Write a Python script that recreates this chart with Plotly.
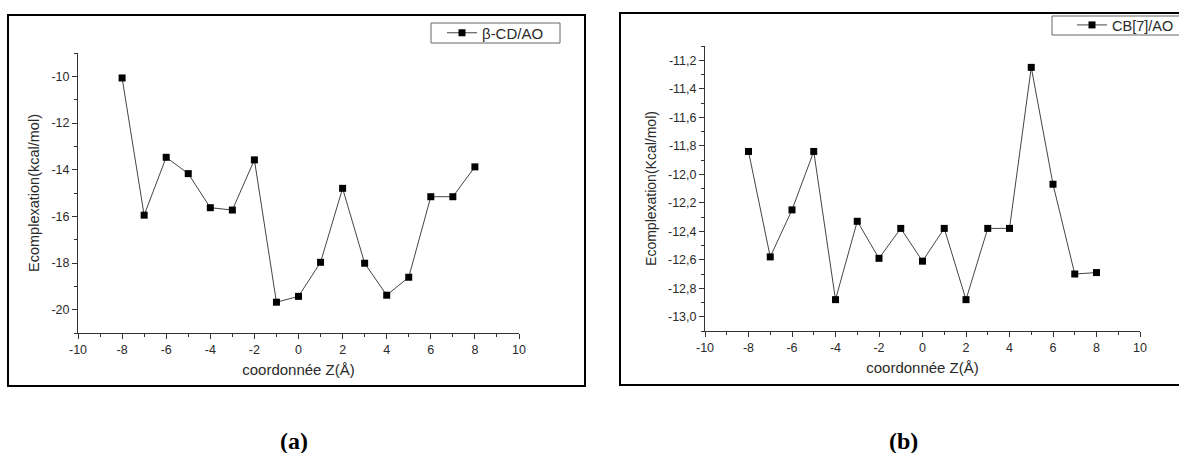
import plotly.graph_objects as go

# ---- data ----
z_coords = [-8, -7, -6, -5, -4, -3, -2, -1, 0, 1, 2, 3, 4, 5, 6, 7, 8]
e_bcd = [-10.07, -15.95, -13.47, -14.17, -15.63, -15.73, -13.58, -19.68, -19.43,
         -17.97, -14.80, -18.01, -19.38, -18.61, -15.16, -15.16, -13.88]
e_cb7 = [-11.84, -12.58, -12.25, -11.84, -12.88, -12.33, -12.59, -12.38, -12.61,
         -12.38, -12.88, -12.38, -12.38, -11.25, -12.07, -12.70, -12.69]

x_tickvals = [-10, -8, -6, -4, -2, 0, 2, 4, 6, 8, 10]
x_ticktext = ["-10", "-8", "-6", "-4", "-2", "0", "2", "4", "6", "8", "10"]
ya_tickvals = [-20, -18, -16, -14, -12, -10]
ya_ticktext = ["-20", "-18", "-16", "-14", "-12", "-10"]
yb_tickvals = [-13.0, -12.8, -12.6, -12.4, -12.2, -12.0, -11.8, -11.6, -11.4, -11.2]
yb_ticktext = ["-13,0", "-12,8", "-12,6", "-12,4", "-12,2", "-12,0", "-11,8", "-11,6", "-11,4", "-11,2"]

name_a = "β-CD/AO"
name_b = "CB[7]/AO"
xtitle = "coordonnée Z(Å)"
ytitle_a = "Ecomplexation(kcal/mol)"
ytitle_b = "Ecomplexation(Kcal/mol)"

W, H = 1179, 453
def px(x):
    return x / W
def py(y):
    return 1 - y / H

FONT = "Liberation Sans, Arial, sans-serif"
TXT = "#2a2a2a"
AX = "#333333"

fig = go.Figure()
fig.add_trace(go.Scatter(
    x=z_coords, y=e_bcd, mode="lines+markers", name=name_a,
    line=dict(color="#444444", width=1),
    marker=dict(symbol="square", size=7, color="black"),
    xaxis="x", yaxis="y", legend="legend"))
fig.add_trace(go.Scatter(
    x=z_coords, y=e_cb7, mode="lines+markers", name=name_b,
    line=dict(color="#444444", width=1),
    marker=dict(symbol="square", size=7, color="black"),
    xaxis="x2", yaxis="y2", legend="legend2"))

axis_common = dict(
    showgrid=False, zeroline=False, showline=True, linecolor=AX, linewidth=1,
    ticks="outside", ticklen=5, tickwidth=1, tickcolor=AX,
    tickfont=dict(family=FONT, size=12.5, color=TXT), mirror=False,
    automargin=False,
)

fig.update_layout(
    width=W, height=H,
    margin=dict(l=0, r=0, t=0, b=0, autoexpand=False),
    paper_bgcolor="white", plot_bgcolor="white",
    xaxis=dict(domain=[px(78), px(519)], anchor="y", range=[-10, 10],
               tickmode="array", tickvals=x_tickvals, ticktext=x_ticktext,
               minor=dict(tickmode="linear", tick0=-9, dtick=2, ticks="outside",
                          ticklen=3, tickcolor=AX),
               title=dict(text=xtitle, font=dict(family=FONT, size=15, color=TXT), standoff=8),
               **axis_common),
    yaxis=dict(domain=[py(333), py(53)], anchor="x", range=[-21, -9],
               tickmode="array", tickvals=ya_tickvals, ticktext=ya_ticktext,
               minor=dict(tickmode="linear", tick0=-21, dtick=2, ticks="outside",
                          ticklen=3, tickcolor=AX),
               title=dict(text=ytitle_a, font=dict(family=FONT, size=14.5, color=TXT), standoff=8),
               **axis_common),
    xaxis2=dict(domain=[px(705), px(1140)], anchor="y2", range=[-10, 10],
                tickmode="array", tickvals=x_tickvals, ticktext=x_ticktext,
                minor=dict(tickmode="linear", tick0=-9, dtick=2, ticks="outside",
                           ticklen=3, tickcolor=AX),
                title=dict(text=xtitle, font=dict(family=FONT, size=15, color=TXT), standoff=8),
                **axis_common),
    yaxis2=dict(domain=[py(331), py(46)], anchor="x2", range=[-13.1, -11.1],
                tickmode="array", tickvals=yb_tickvals, ticktext=yb_ticktext,
                minor=dict(tickmode="linear", tick0=-13.1, dtick=0.2, ticks="outside",
                           ticklen=3, tickcolor=AX),
                title=dict(text=ytitle_b, font=dict(family=FONT, size=14, color=TXT), standoff=8),
                **axis_common),
    legend=dict(x=px(442), y=py(33), xanchor="left", yanchor="middle",
                borderwidth=0, bgcolor="rgba(0,0,0,0)",
                font=dict(family=FONT, size=15, color=TXT)),
    legend2=dict(x=px(1072), y=py(25), xanchor="left", yanchor="middle",
                 borderwidth=0, bgcolor="rgba(0,0,0,0)",
                 font=dict(family=FONT, size=14.5, color=TXT)),
    showlegend=True,
    shapes=[
        dict(type="rect", xref="paper", yref="paper",
             x0=px(8), x1=px(585), y0=py(386), y1=py(15),
             line=dict(color="black", width=2)),
        dict(type="rect", xref="paper", yref="paper",
             x0=px(620), x1=px(1190), y0=py(385), y1=py(13),
             line=dict(color="black", width=2)),
        # legend frames
        dict(type="rect", xref="paper", yref="paper",
             x0=px(431), x1=px(560), y0=py(43), y1=py(23),
             line=dict(color="#666666", width=1)),
        dict(type="rect", xref="paper", yref="paper",
             x0=px(1052), x1=px(1190), y0=py(35), y1=py(16),
             line=dict(color="#666666", width=1)),
    ],
    annotations=[
        dict(text="<b>(a)</b>", x=px(294), y=py(441), xref="paper", yref="paper",
             xanchor="center", yanchor="middle", showarrow=False,
             font=dict(family="Liberation Serif, Times New Roman, serif", size=24, color="black")),
        dict(text="<b>(b)</b>", x=px(903), y=py(441), xref="paper", yref="paper",
             xanchor="center", yanchor="middle", showarrow=False,
             font=dict(family="Liberation Serif, Times New Roman, serif", size=24, color="black")),
    ],
)

fig.write_html("out.html", config={"displayModeBar": False},
               post_script="document.body.style.margin='0';")
